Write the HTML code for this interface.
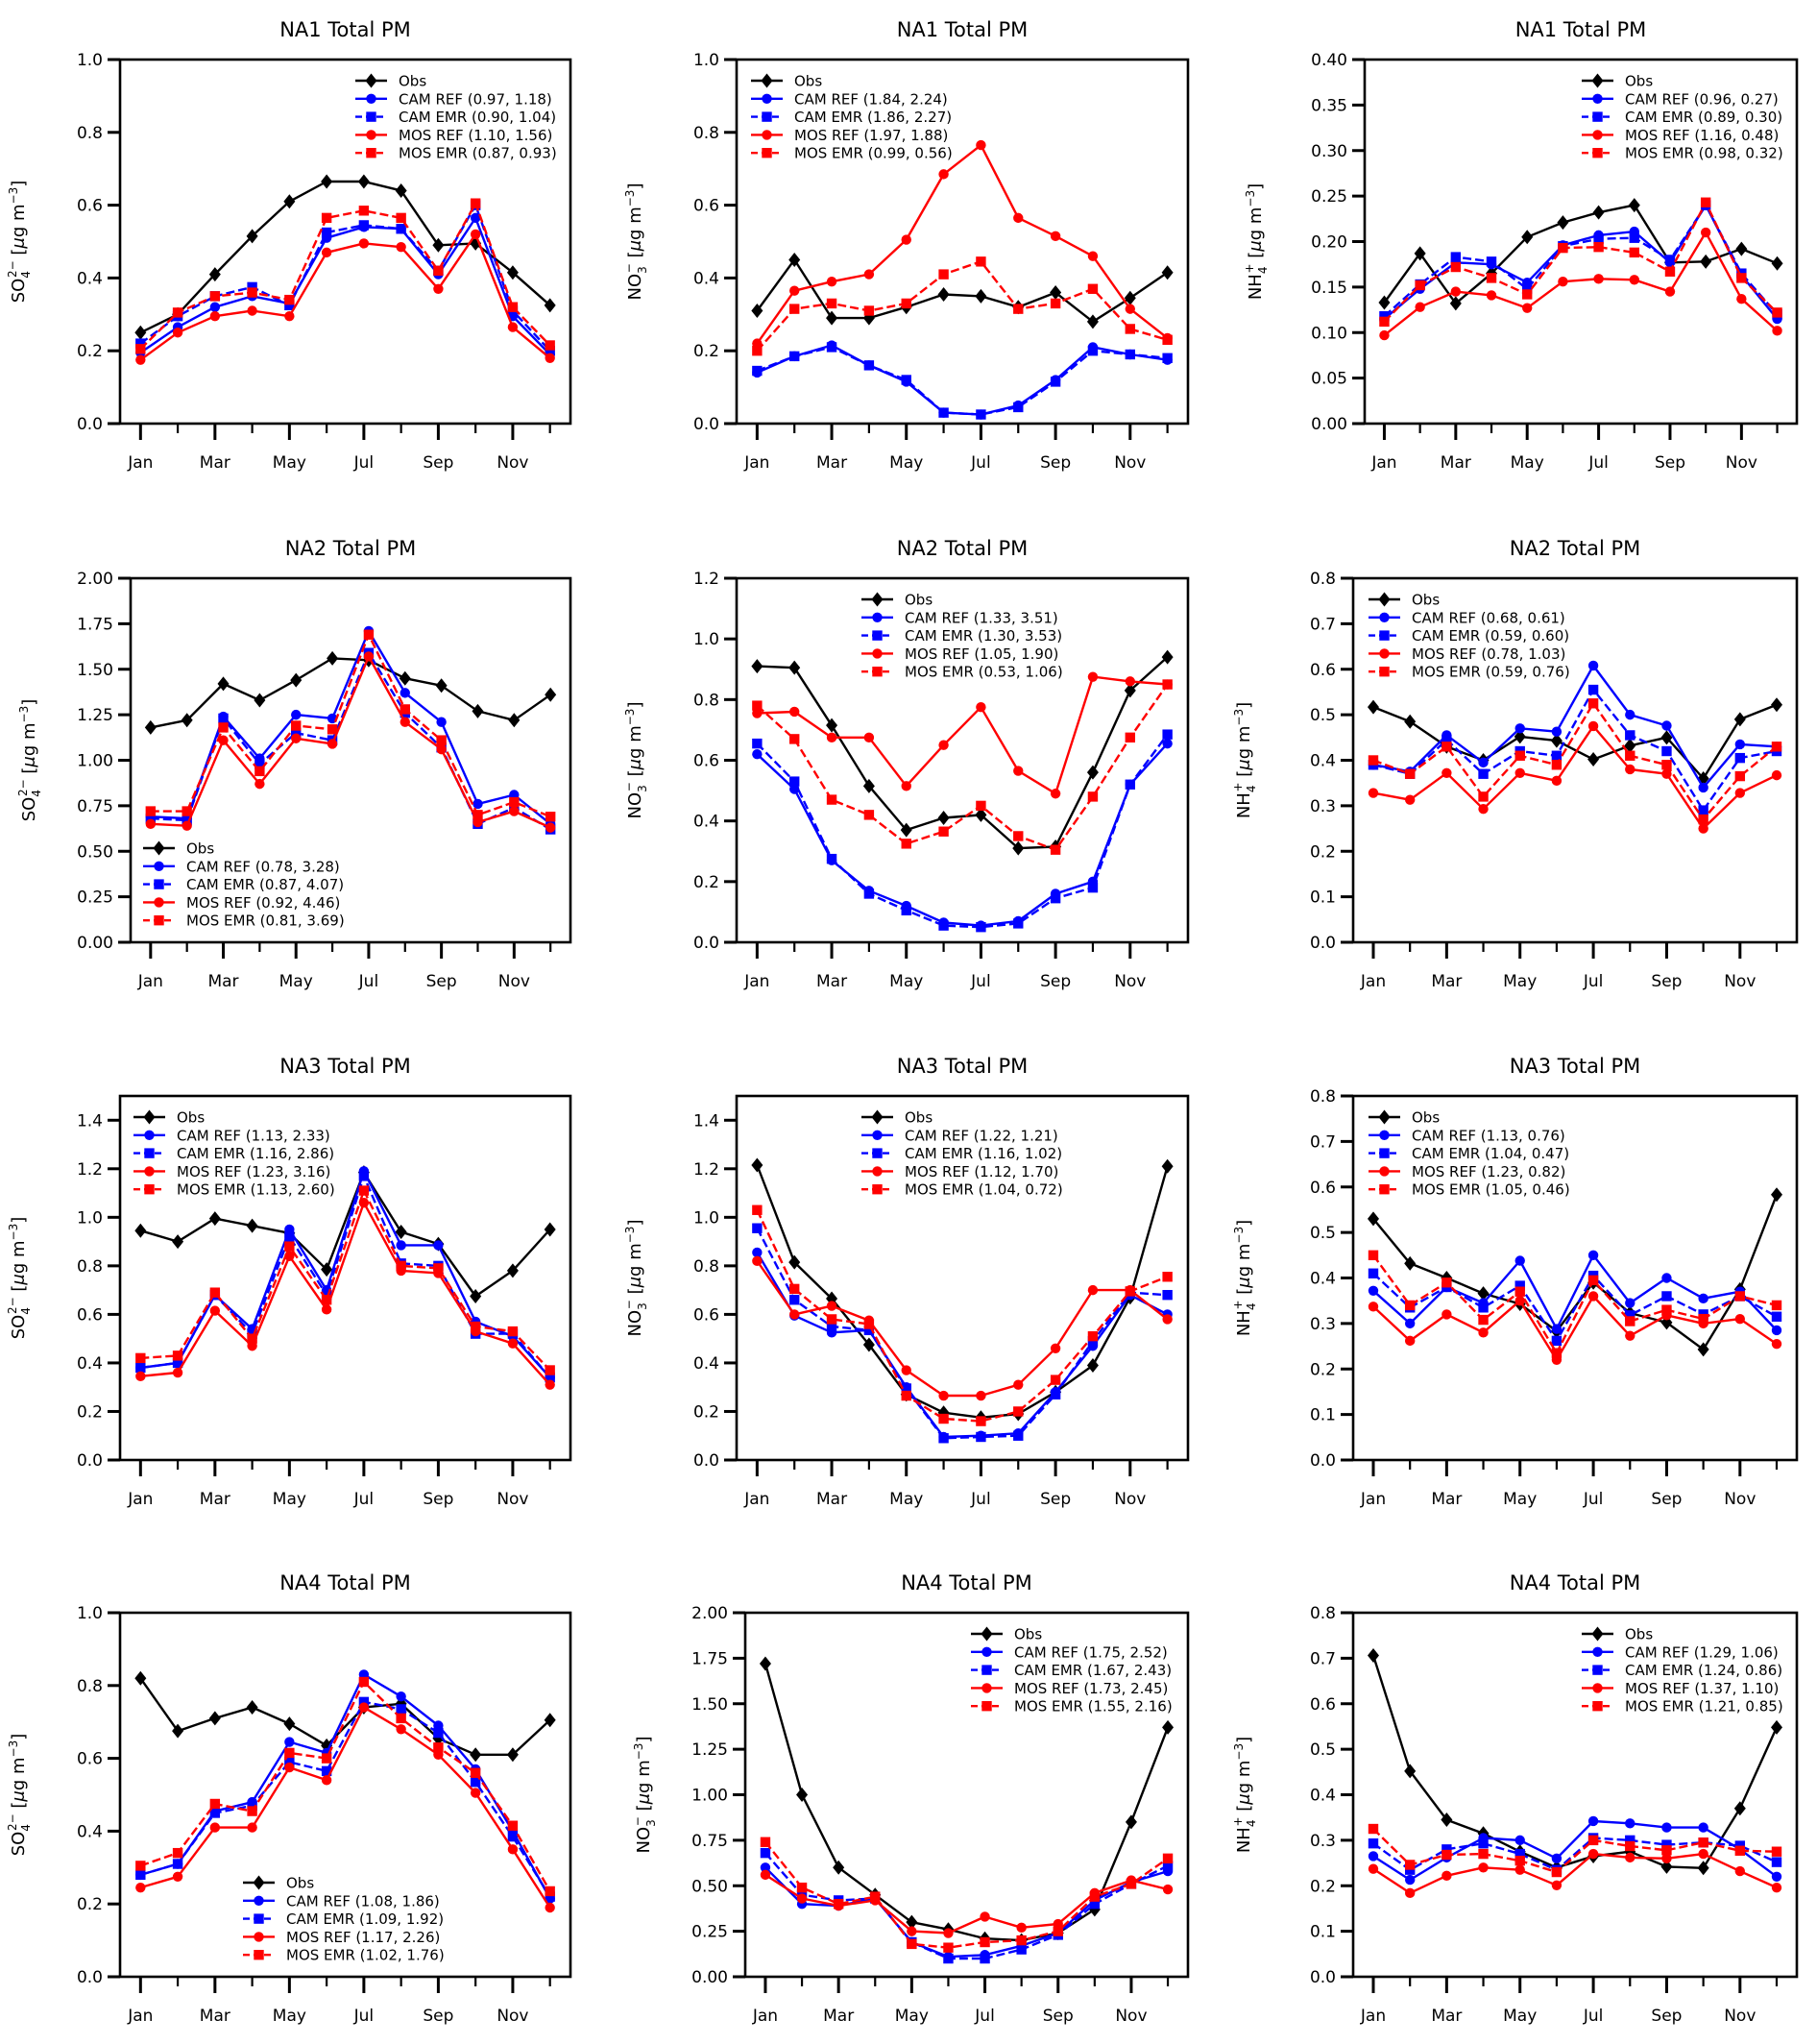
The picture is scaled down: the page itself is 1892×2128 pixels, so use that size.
<!DOCTYPE html>
<html><head><meta charset="utf-8"><style>
html,body{margin:0;padding:0;background:#fff;}
svg{display:block;font-family:"DejaVu Sans","Liberation Sans",sans-serif;}
</style></head><body>
<svg id="fig" width="1892" height="2128" viewBox="0 0 1892 2128" xmlns="http://www.w3.org/2000/svg"></svg>
<script>
const months = ["Jan","Feb","Mar","Apr","May","Jun","Jul","Aug","Sep","Oct","Nov","Dec"];
const seriesNames = ["Obs","CAM REF","CAM EMR","MOS REF","MOS EMR"];
const titles = ["NA1 Total PM","NA1 Total PM","NA1 Total PM","NA2 Total PM","NA2 Total PM","NA2 Total PM","NA3 Total PM","NA3 Total PM","NA3 Total PM","NA4 Total PM","NA4 Total PM","NA4 Total PM"];
const species = ["so4","no3","nh4","so4","no3","nh4","so4","no3","nh4","so4","no3","nh4"];
const yMax = [1.0,1.0,0.40,2.0,1.2,0.8,1.5,1.5,0.8,1.0,2.0,0.8];
const yStep = [0.2,0.2,0.05,0.25,0.2,0.1,0.2,0.2,0.1,0.2,0.25,0.1];
const yDecimals = [1,1,2,2,1,1,1,1,1,1,2,1];
const legendStats = [
 ["(0.97, 1.18)","(0.90, 1.04)","(1.10, 1.56)","(0.87, 0.93)"],
 ["(1.84, 2.24)","(1.86, 2.27)","(1.97, 1.88)","(0.99, 0.56)"],
 ["(0.96, 0.27)","(0.89, 0.30)","(1.16, 0.48)","(0.98, 0.32)"],
 ["(0.78, 3.28)","(0.87, 4.07)","(0.92, 4.46)","(0.81, 3.69)"],
 ["(1.33, 3.51)","(1.30, 3.53)","(1.05, 1.90)","(0.53, 1.06)"],
 ["(0.68, 0.61)","(0.59, 0.60)","(0.78, 1.03)","(0.59, 0.76)"],
 ["(1.13, 2.33)","(1.16, 2.86)","(1.23, 3.16)","(1.13, 2.60)"],
 ["(1.22, 1.21)","(1.16, 1.02)","(1.12, 1.70)","(1.04, 0.72)"],
 ["(1.13, 0.76)","(1.04, 0.47)","(1.23, 0.82)","(1.05, 0.46)"],
 ["(1.08, 1.86)","(1.09, 1.92)","(1.17, 2.26)","(1.02, 1.76)"],
 ["(1.75, 2.52)","(1.67, 2.43)","(1.73, 2.45)","(1.55, 2.16)"],
 ["(1.29, 1.06)","(1.24, 0.86)","(1.37, 1.10)","(1.21, 0.85)"]
];
// per panel: [Obs, CAM REF, CAM EMR, MOS REF, MOS EMR]
const obs = [
 [.25,.30,.41,.515,.61,.665,.665,.64,.49,.495,.415,.325],
 [.31,.45,.29,.29,.32,.355,.35,.32,.36,.28,.345,.415],
 [.133,.187,.132,.165,.205,.221,.232,.24,.177,.178,.192,.176],
 [1.18,1.22,1.42,1.33,1.44,1.56,1.55,1.45,1.41,1.27,1.22,1.36],
 [.91,.905,.715,.515,.37,.41,.42,.31,.315,.56,.83,.94],
 [.517,.485,.43,.40,.452,.443,.402,.432,.45,.36,.49,.522],
 [.945,.90,.995,.965,.935,.785,1.185,.94,.89,.675,.78,.95],
 [1.215,.815,.665,.475,.27,.195,.175,.19,.28,.39,.67,1.21],
 [.53,.432,.40,.366,.343,.283,.39,.323,.302,.243,.375,.583],
 [.82,.675,.71,.74,.695,.635,.74,.75,.655,.61,.61,.705],
 [1.72,1.00,.60,.45,.30,.26,.21,.20,.24,.37,.85,1.37],
 [.706,.452,.345,.315,.275,.24,.265,.275,.242,.239,.37,.548]
];
const camRef = [
 [.195,.265,.32,.35,.33,.51,.54,.535,.41,.565,.295,.19],
 [.14,.185,.215,.16,.115,.03,.025,.05,.12,.21,.19,.175],
 [.115,.148,.177,.175,.155,.196,.207,.211,.177,.24,.163,.115],
 [.69,.68,1.24,1.01,1.25,1.23,1.71,1.37,1.21,.76,.81,.65],
 [.62,.505,.27,.17,.12,.065,.055,.07,.16,.20,.52,.655],
 [.39,.375,.455,.395,.47,.463,.608,.50,.476,.34,.435,.43],
 [.38,.40,.68,.54,.95,.70,1.19,.885,.885,.57,.51,.34],
 [.855,.595,.525,.535,.30,.095,.10,.11,.28,.47,.68,.60],
 [.372,.30,.38,.345,.438,.288,.45,.345,.40,.355,.37,.285],
 [.28,.31,.455,.48,.645,.615,.83,.77,.69,.57,.40,.215],
 [.60,.40,.39,.43,.19,.11,.12,.17,.24,.42,.52,.58],
 [.265,.213,.262,.305,.30,.26,.342,.337,.328,.328,.28,.22]
];
const camEmr = [
 [.22,.295,.35,.375,.325,.525,.545,.535,.42,.60,.31,.20],
 [.145,.185,.21,.16,.12,.03,.025,.045,.115,.20,.19,.18],
 [.118,.153,.183,.178,.148,.195,.203,.204,.18,.24,.165,.12],
 [.68,.67,1.23,.98,1.15,1.11,1.59,1.26,1.07,.65,.74,.62],
 [.655,.53,.275,.16,.105,.055,.05,.062,.145,.18,.52,.685],
 [.39,.37,.445,.37,.42,.41,.555,.455,.42,.29,.405,.42],
 [.38,.40,.68,.52,.92,.68,1.17,.81,.80,.52,.52,.34],
 [.955,.66,.55,.535,.295,.09,.095,.10,.27,.49,.69,.68],
 [.41,.335,.38,.335,.383,.262,.405,.318,.36,.32,.36,.315],
 [.28,.31,.45,.47,.59,.565,.755,.735,.67,.535,.385,.22],
 [.68,.45,.42,.43,.19,.10,.10,.15,.23,.40,.51,.61],
 [.293,.235,.28,.293,.27,.235,.305,.30,.29,.295,.288,.252]
];
const mosRef = [
 [.175,.25,.295,.31,.295,.47,.495,.485,.37,.52,.265,.18],
 [.22,.365,.39,.41,.505,.685,.765,.565,.515,.46,.315,.235],
 [.097,.128,.145,.141,.127,.156,.159,.158,.145,.21,.137,.102],
 [.65,.64,1.11,.87,1.12,1.09,1.57,1.21,1.06,.66,.72,.63],
 [.755,.76,.675,.675,.515,.65,.775,.565,.49,.875,.86,.85],
 [.328,.313,.372,.293,.372,.355,.475,.38,.37,.25,.328,.367],
 [.345,.36,.615,.47,.84,.62,1.06,.78,.77,.53,.48,.31],
 [.82,.60,.635,.575,.37,.265,.265,.31,.46,.70,.70,.58],
 [.337,.262,.32,.28,.35,.22,.36,.273,.318,.30,.31,.255],
 [.245,.275,.41,.41,.575,.54,.74,.68,.61,.505,.35,.19],
 [.56,.43,.39,.42,.25,.24,.33,.27,.29,.46,.53,.48],
 [.237,.184,.222,.24,.235,.201,.27,.262,.26,.27,.232,.196]
];
const mosEmr = [
 [.205,.305,.35,.36,.34,.565,.585,.565,.42,.605,.32,.215],
 [.20,.315,.33,.31,.33,.41,.445,.315,.33,.37,.26,.23],
 [.112,.152,.172,.16,.142,.193,.194,.188,.167,.243,.16,.122],
 [.72,.72,1.18,.94,1.19,1.17,1.69,1.28,1.11,.70,.77,.69],
 [.78,.67,.47,.42,.325,.365,.45,.35,.305,.48,.675,.85],
 [.40,.37,.43,.32,.41,.39,.525,.41,.39,.27,.365,.43],
 [.42,.43,.69,.50,.88,.66,1.11,.80,.79,.55,.53,.37],
 [1.03,.705,.58,.56,.265,.17,.16,.20,.33,.51,.695,.755],
 [.45,.34,.39,.308,.37,.235,.395,.305,.33,.31,.36,.34],
 [.305,.34,.475,.455,.615,.60,.81,.71,.63,.56,.415,.235],
 [.74,.49,.40,.44,.18,.16,.19,.20,.25,.44,.51,.65],
 [.325,.246,.268,.27,.255,.23,.30,.287,.278,.295,.277,.275]
];

const NS="http://www.w3.org/2000/svg";
const svg=document.getElementById('fig');
function mk(tag,attrs,parent){const e=document.createElementNS(NS,tag);for(const k in attrs)e.setAttribute(k,attrs[k]);(parent||svg).appendChild(e);return e;}

const lefts=[[125,767,1421],[136,767,1409],[125,767,1409],[125,776,1409]];
const rights=[594,1237,1871];
const tops=[62,602,1141,1679];
const H=379;
// legend placement: [anchorType, offset, vertical]
const legPos=[["R",224,"T"],["L",15,"T"],["R",224,"T"],["L",13,"B"],["L",130,"T"],["L",16,"T"],["L",14,"T"],["L",130,"T"],["L",16,"T"],["L",128,"B"],["R",226,"T"],["R",224,"T"]];
const colors=["#000","#0000ff","#0000ff","#ff0000","#ff0000"];
const dashed=[false,false,true,false,true];
const markers=["D","o","s","o","s"];

function marker(g,type,x,y,c){
  let m;
  if(type==="D") m=mk('path',{d:`M${x},${y-7.5}L${x+6},${y}L${x},${y+7.5}L${x-6},${y}Z`,fill:c},g);
  else if(type==="o") m=mk('circle',{cx:x,cy:y,r:5.2,fill:c},g);
  else m=mk('rect',{x:x-5.2,y:y-5.2,width:10.4,height:10.4,fill:c},g);
  return m;
}

for(let p=0;p<12;p++){
  const r=Math.floor(p/3),c=p%3;
  const L=lefts[r][c],R=rights[c],T=tops[r],B=T+H,W=R-L;
  const g=mk('g',{});
  
  
  const xs=i=>L+(i+0.55)/12.1*W;
  const ys=v=>B-v/yMax[p]*H;
  // title
  const t=mk('text',{x:(L+R)/2,y:T-24,'text-anchor':'middle','font-size':21},g);
  t.textContent=titles[p];
  
  
  // y ticks
  const nT=Math.round(yMax[p]/yStep[p]+1e-6);
  for(let k=0;k<=nT;k++){
    const v=k*yStep[p]; if(v>yMax[p]+1e-9) break;
    const y=ys(v);
    mk('line',{x1:L-13,x2:L,y1:y,y2:y,stroke:'#000','stroke-width':3},g);
    const tl=mk('text',{x:L-18,y:y+6,'text-anchor':'end','font-size':17},g);
    tl.textContent=v.toFixed(yDecimals[p]);
    
    
  }
  // x ticks
  for(let i=0;i<12;i++){
    const x=xs(i),major=i%2===0;
    mk('line',{x1:x,x2:x,y1:B,y2:B+(major?17:10),stroke:'#000','stroke-width':major?3:2.2},g);
    if(major){
      const xl=mk('text',{x:x,y:B+46,'text-anchor':'middle','font-size':17},g);
      xl.textContent=months[i];
      
      
    }
  }
  // y-axis title
  const yl=mk('text',{transform:`translate(${L-(c===2?108:100)},${(T+B)/2}) rotate(-90)`,'text-anchor':'middle','font-size':18},g);
  
  
  if(species[p]==="so4"){
    yl.innerHTML='SO<tspan dy="6" font-size="12">4</tspan><tspan dx="-7" dy="-14" font-size="12">2−</tspan><tspan dy="8">  [</tspan><tspan font-style="italic">μ</tspan>g m<tspan dy="-7" font-size="12">−3</tspan><tspan dy="7">]</tspan>';
  }else if(species[p]==="no3"){
    yl.innerHTML='NO<tspan dy="6" font-size="12">3</tspan><tspan dx="-7" dy="-14" font-size="12">−</tspan><tspan dy="8"> [</tspan><tspan font-style="italic">μ</tspan>g m<tspan dy="-7" font-size="12">−3</tspan><tspan dy="7">]</tspan>';
  }else{
    yl.innerHTML='NH<tspan dy="6" font-size="12">4</tspan><tspan dx="-7" dy="-14" font-size="12">+</tspan><tspan dy="8"> [</tspan><tspan font-style="italic">μ</tspan>g m<tspan dy="-7" font-size="12">−3</tspan><tspan dy="7">]</tspan>';
  }
  // series
  const all=[obs[p],camRef[p],camEmr[p],mosRef[p],mosEmr[p]];
  for(let s=0;s<5;s++){
    const sg=mk('g',{},g);
    
    
    const pts=all[s].map((v,i)=>xs(i).toFixed(1)+','+ys(v).toFixed(1)).join(' ');
    const pl=mk('polyline',{points:pts,fill:'none',stroke:colors[s],'stroke-width':2.4,'stroke-linejoin':'round'},sg);
    if(dashed[s]) pl.setAttribute('stroke-dasharray','9,4');
    all[s].forEach((v,i)=>{
      const m=marker(sg,markers[s],xs(i),ys(v),colors[s]);
      
      
    });
  }
  // frame
  mk('rect',{x:L,y:T,width:W,height:H,fill:'none',stroke:'#000','stroke-width':2.6},g);
  // legend
  const lp=legPos[p];
  const lx=lp[0]==="L"?L+lp[1]:R-lp[1];
  const ly0=lp[2]==="T"?T+22:B-98;
  const lg=mk('g',{},g);
  
  
  for(let s=0;s<5;s++){
    const y=ly0+s*18.8;
    const eg=mk('g',{},lg);
    
    
    const ln=mk('line',{x1:lx,x2:lx+33,y1:y,y2:y,stroke:colors[s],'stroke-width':2.4},eg);
    if(dashed[s]) ln.setAttribute('stroke-dasharray','7,4');
    marker(eg,markers[s],lx+16.5,y,colors[s]);
    const tx=mk('text',{x:lx+45,y:y+5.5,'font-size':15},eg);
    tx.textContent=s===0?"Obs":seriesNames[s]+" "+legendStats[p][s-1];
  }
}
</script>
</body></html>
